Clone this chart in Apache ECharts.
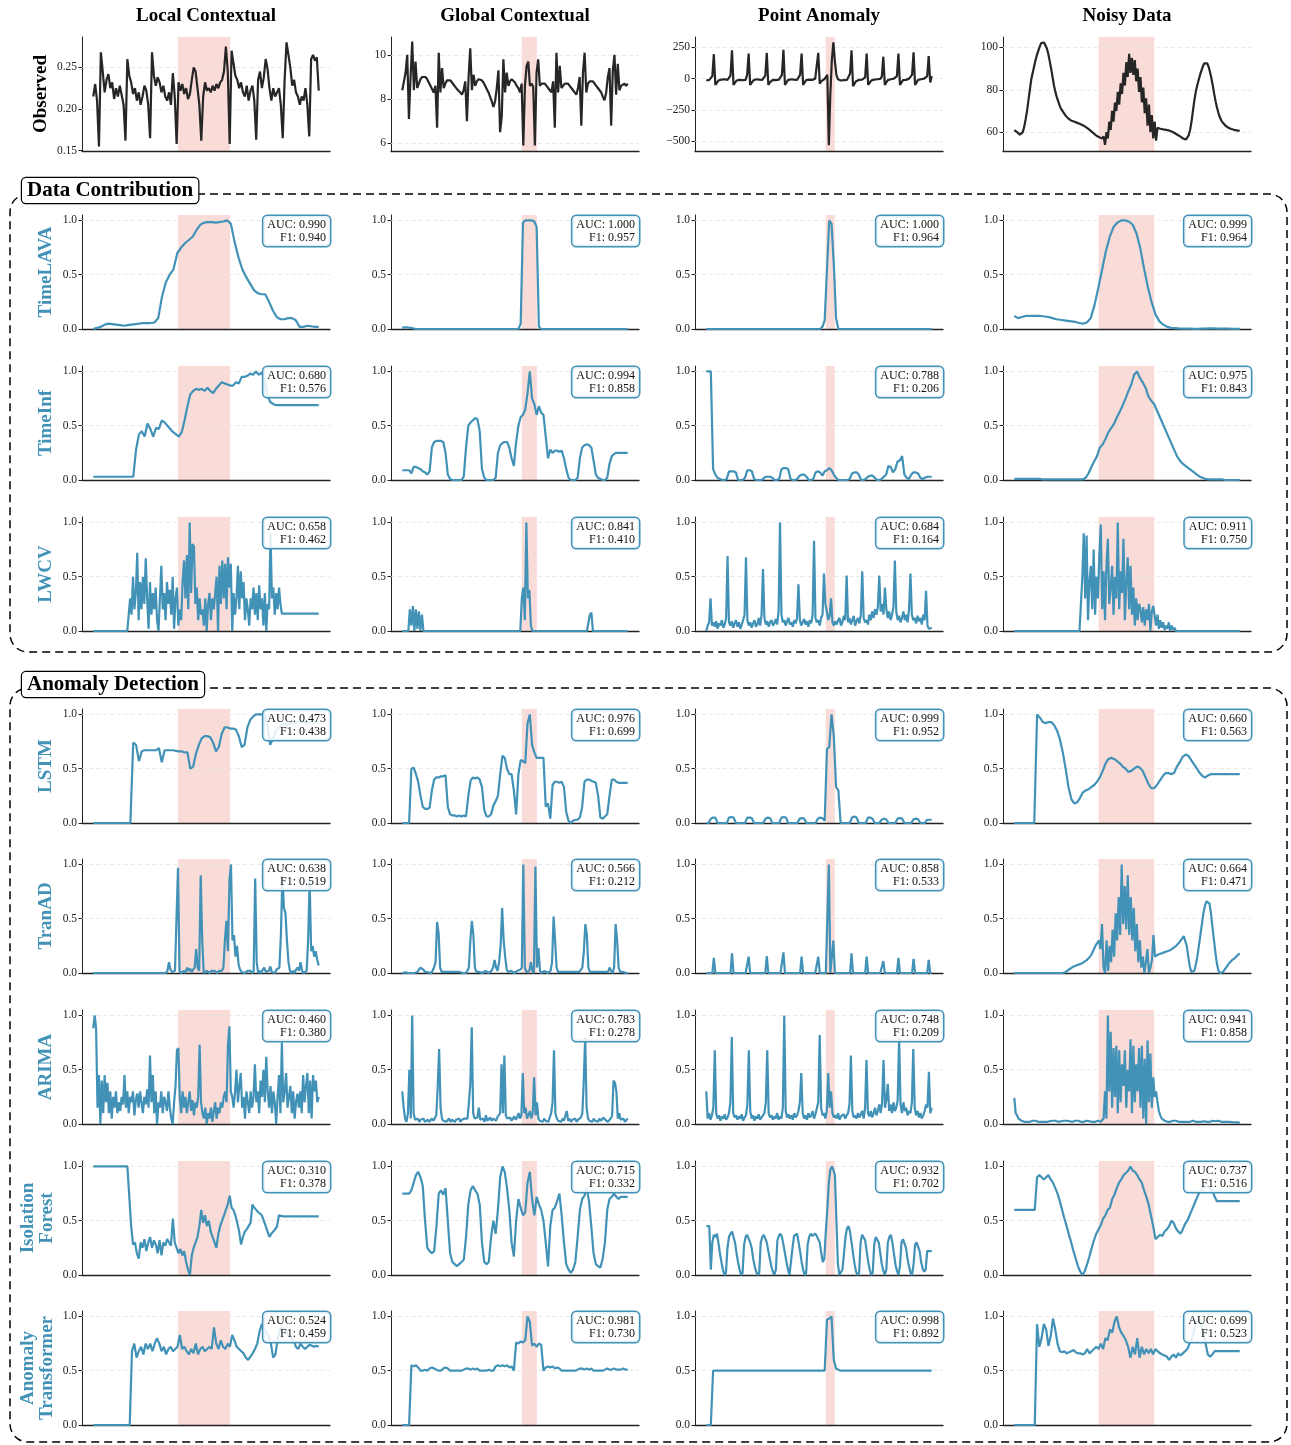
<!DOCTYPE html>
<html>
<head>
<meta charset="utf-8">
<script src="https://cdn.jsdelivr.net/npm/echarts@6.0.0/dist/echarts.min.js"></script>
<style>
  html, body { margin: 0; padding: 0; background: #fff; }
  #main { width: 1291px; height: 1445px; }
</style>
</head>
<body>
<div id="main"></div>
<script>
// column / row labels
var columnTitles = ['Local Contextual', 'Global Contextual', 'Point Anomaly', 'Noisy Data'];
var rowLabels = ['Observed', 'TimeLAVA', 'TimeInf', 'LWCV', 'LSTM', 'TranAD', 'ARIMA', 'Isolation\nForest', 'Anomaly\nTransformer'];

// anomaly window, in % of the series length
var anomalyStart = [37.6, 53.0, 53.0, 37.4];
var anomalyEnd = [60.7, 59.7, 57.0, 62.1];

// y ticks
var observedTicks = [[0.15, 0.20, 0.25], [6, 8, 10], [-500, -250, 0, 250], [60, 80, 100]];
var observedMin = [0.1495, 5.65, -577, 51.1];
var observedMax = [0.2865, 10.81, 332, 104.9];
var scoreTicks = [0, 0.5, 1.0];

// AUC / F1 per method row, per column
var aucScores = [
  [0.990, 1.000, 1.000, 0.999],
  [0.680, 0.994, 0.788, 0.975],
  [0.658, 0.841, 0.684, 0.911],
  [0.473, 0.976, 0.999, 0.660],
  [0.638, 0.566, 0.858, 0.664],
  [0.460, 0.783, 0.748, 0.941],
  [0.310, 0.715, 0.932, 0.737],
  [0.524, 0.981, 0.998, 0.699]
];
var f1Scores = [
  [0.940, 0.957, 0.964, 0.964],
  [0.576, 0.858, 0.206, 0.843],
  [0.462, 0.410, 0.164, 0.750],
  [0.438, 0.699, 0.952, 0.563],
  [0.519, 0.212, 0.533, 0.471],
  [0.380, 0.278, 0.209, 0.858],
  [0.378, 0.332, 0.702, 0.516],
  [0.459, 0.730, 0.892, 0.523]
];

// ---- observed series ----
var obsLocal = [0.215,0.23,0.21,0.155,0.268,0.245,0.22,0.235,0.242,0.225,
  0.232,0.212,0.225,0.215,0.228,0.23,0.205,0.162,0.26,0.24,
  0.232,0.218,0.225,0.21,0.22,0.205,0.215,0.228,0.222,0.205,
  0.165,0.268,0.24,0.228,0.238,0.232,0.22,0.228,0.215,0.21,
  0.22,0.205,0.243,0.215,0.158,0.232,0.222,0.23,0.218,0.225,
  0.212,0.218,0.235,0.25,0.245,0.225,0.205,0.162,0.215,0.232,
  0.222,0.225,0.22,0.228,0.222,0.23,0.225,0.232,0.235,0.245,
  0.275,0.245,0.158,0.27,0.255,0.24,0.235,0.225,0.232,0.22,
  0.215,0.228,0.21,0.222,0.228,0.21,0.163,0.235,0.245,0.225,
  0.238,0.26,0.248,0.225,0.21,0.225,0.215,0.22,0.225,0.205,
  0.165,0.235,0.28,0.265,0.25,0.228,0.235,0.22,0.215,0.205,
  0.215,0.21,0.225,0.205,0.167,0.26,0.265,0.258,0.262,0.222];
var obsGlobal = [8.4,8.8,9.2,10.0,7.1,9.0,10.6,8.4,9.7,8.5,
  8.7,8.9,9.0,9.05,9.0,8.9,8.75,8.6,8.45,8.3,
  8.6,6.7,10.1,8.3,9.4,8.5,8.7,8.85,8.9,8.85,
  8.75,8.65,8.55,8.45,8.4,8.3,8.2,8.4,8.8,7.0,
  9.0,10.3,8.4,9.1,8.6,8.8,8.9,8.9,8.85,8.75,
  8.6,8.45,8.3,8.1,7.9,7.65,7.9,8.5,9.3,6.5,
  7.2,9.8,8.3,9.2,8.6,8.8,8.9,8.85,8.75,8.6,
  8.5,8.3,8.7,5.9,8.6,9.5,9.7,8.6,8.7,8.55,
  5.9,9.2,9.8,8.6,8.7,8.65,8.7,8.6,8.5,8.4,
  8.3,8.8,6.7,10.1,8.3,9.5,8.5,8.6,8.7,8.75,
  8.7,8.6,8.5,8.4,8.3,8.2,8.5,9.0,6.8,9.2,
  10.1,8.3,8.7,8.8,8.85,8.8,8.7,8.6,8.5,8.4,
  8.3,8.1,7.95,8.3,9.0,9.4,6.8,9.3,10.0,8.2,
  9.6,8.4,8.6,8.65,8.7,8.6,8.7];
var obsPoint = [-15,-12,-10,-12,20,195,-50,-35,-15,-10,
  -8,-12,-5,-8,-10,-5,25,225,-50,-40,
  -15,-12,-10,-8,-12,-5,-10,30,200,-50,
  -35,-15,-10,-5,-10,-8,-5,-10,-2,25,
  205,-50,-30,-15,-10,-8,-12,-5,-8,0,
  30,230,-50,-35,-12,-10,-5,-10,-8,-5,
  -10,-5,30,200,-50,-40,-12,-10,-8,-5,
  -10,-5,0,10,205,-40,-20,-10,-5,10,
  30,-530,-120,150,290,140,30,-5,-10,-15,
  -10,-12,-8,-10,-5,40,225,-60,-40,-20,
  -15,-10,-12,-8,-10,10,200,-50,-35,-15,
  -10,-8,-12,-5,-10,-2,15,175,-50,-30,
  -12,-10,-5,-8,0,-5,20,200,-50,-40,
  -12,-8,-10,-5,0,5,30,210,-50,-35,
  -10,-8,-5,-10,0,5,20,180,-30,20];
var obsNoisy = [61,60.5,60,59.3,58.8,59,60,62.5,66,70,
  75,80,85,88,91,94,96.5,98.5,100.5,102,
  102.5,102.3,101.5,99.5,97,93.5,90,86,82,79,
  76.5,74.5,72.5,71,70,69,68,67.2,66.5,66,
  65.5,65.2,65,64.8,64.5,64.2,64,63.7,63.4,63,
  62.6,62.2,61.7,61.2,60.6,60,59.4,58.8,58.3,57.9,
  57.6,57.3,57,58,54,60,57,65,61,70,
  65,74,70,79,73,83,78,88,82,93,
  86,97,88,95,87,94,84,90,79,86,
  74,81,69,76,63,73,60,68,57,65,
  56,62,61.8,61.6,61.4,61.3,61.2,61.1,61,60.8,
  60.6,60.3,60,59.6,59.2,58.8,58.4,58,57.5,57,
  56.7,56.5,57,58.5,61,65,70,75,79,82,
  84.5,87,89,91,92.5,93,92.5,91,88.5,85.5,
  82,78,74.5,71.5,69,67,65.5,64.5,63.6,63,
  62.5,62.1,61.8,61.5,61.3,61.1,61,60.8,60.7,60.6];

// ---- TimeLAVA ----
var lavaLocal = [0,0.01,0.02,0.04,0.05,0.045,0.04,0.035,0.03,0.035,
  0.04,0.045,0.05,0.055,0.055,0.055,0.06,0.1,0.3,0.43,
  0.5,0.55,0.7,0.75,0.79,0.82,0.85,0.91,0.96,0.98,
  0.985,0.985,0.98,0.985,0.99,1.0,0.97,0.8,0.66,0.55,
  0.48,0.42,0.36,0.33,0.32,0.32,0.25,0.17,0.11,0.09,
  0.09,0.1,0.1,0.08,0.02,0.02,0.03,0.025,0.02,0.02];
var lavaGlobal = [0.01,0.015,0.015,0.012,0.01,0.005,0,0,0,0,
  0,0,0,0,0,0,0,0,0,0,
  0,0,0,0,0,0,0,0,0,0,
  0,0,0,0,0,0,0,0,0,0,
  0,0,0,0,0,0,0,0,0,0,
  0,0,0.05,0.98,1.0,1.0,1.0,1.0,0.99,0.94,
  0.02,0,0,0,0,0,0,0,0,0,
  0,0,0,0,0,0,0,0,0,0,
  0,0,0,0,0,0,0,0,0,0,
  0,0,0,0,0,0,0,0,0,0];
var lavaPoint = [0,0,0,0,0,0,0,0,0,0,
  0,0,0,0,0,0,0,0,0,0,
  0,0,0,0,0,0,0,0,0,0,
  0,0,0,0,0,0,0,0,0,0,
  0,0,0,0,0,0,0,0,0,0,
  0,0.02,0.08,0.55,1.0,0.97,0.6,0.1,0,0,
  0,0,0,0,0,0,0,0,0,0,
  0,0,0,0,0,0,0,0,0,0,
  0,0,0,0,0,0,0,0,0,0,
  0,0,0,0,0,0,0,0,0,0];
var lavaNoisy = [0.12,0.1,0.11,0.12,0.12,0.12,0.12,0.12,0.115,0.11,
  0.1,0.09,0.085,0.08,0.075,0.07,0.065,0.055,0.05,0.06,
  0.1,0.22,0.38,0.55,0.72,0.85,0.94,0.98,1.0,1.0,
  0.99,0.96,0.88,0.74,0.55,0.38,0.24,0.13,0.07,0.04,
  0.02,0.01,0.008,0.005,0.004,0.003,0.003,0.002,0.002,0.003,
  0.004,0.005,0.005,0.004,0.004,0.003,0.003,0.002,0.002,0.002];

// ---- TimeInf ----
var infLocal = [0.03,0.03,0.03,0.03,0.03,0.03,0.03,0.03,0.03,0.03,
  0.03,0.03,0.03,0.03,0.03,0.28,0.42,0.45,0.4,0.52,
  0.47,0.4,0.48,0.47,0.55,0.53,0.5,0.47,0.44,0.42,
  0.4,0.44,0.55,0.68,0.79,0.82,0.84,0.83,0.84,0.82,
  0.85,0.82,0.8,0.84,0.87,0.9,0.89,0.88,0.87,0.87,
  0.9,0.89,0.95,0.95,0.96,0.98,0.97,1.0,0.97,0.99,
  0.93,0.78,0.72,0.7,0.69,0.69,0.69,0.69,0.69,0.69,
  0.69,0.69,0.69,0.69,0.69,0.69,0.69,0.69,0.69,0.69];
var infGlobal = [0.09,0.09,0.09,0.09,0.06,0.12,0.12,0.11,0.1,0.08,
  0.07,0.05,0.08,0.3,0.35,0.36,0.36,0.36,0.35,0.25,
  0.05,0.01,0,0,0,0,0,0.03,0.3,0.5,
  0.53,0.55,0.57,0.56,0.45,0.1,0.02,0,0,0,
  0,0.02,0.25,0.32,0.34,0.35,0.35,0.3,0.2,0.13,
  0.35,0.5,0.58,0.6,0.65,0.8,1.0,0.75,0.7,0.6,
  0.68,0.62,0.6,0.4,0.2,0.28,0.25,0.27,0.27,0.26,
  0.27,0.2,0.1,0.02,0,0,0,0.02,0.2,0.3,
  0.32,0.33,0.32,0.3,0.18,0.05,0.02,0.01,0,0,
  0.02,0.15,0.22,0.24,0.25,0.25,0.25,0.25,0.25,0.25];
var infPoint = [1.0,1.0,1.0,0.1,0.05,0.02,0.01,0,0,0.01,
  0.08,0.08,0.08,0.07,0,0,0,0.02,0.09,0.09,
  0.08,0.01,0,0,0,0.01,0.03,0.03,0.03,0.02,
  0,0,0.01,0.1,0.11,0.11,0.1,0.01,0,0,
  0.01,0.04,0.05,0.05,0.03,0,0,0.01,0.07,0.08,
  0.07,0.04,0.08,0.09,0.11,0.09,0.05,0.02,0,0,
  0,0,0,0.01,0.06,0.07,0.07,0.05,0,0,
  0.01,0.03,0.04,0.04,0.02,0,0,0.01,0.03,0.05,
  0.13,0.12,0.07,0.1,0.17,0.18,0.22,0.05,0.02,0.01,
  0.05,0.07,0.07,0.06,0.02,0.01,0.02,0.03,0.03,0.03];
var infNoisy = [0.01,0.01,0.01,0.01,0.01,0.01,0.01,0.01,0.01,0.01,
  0.005,0.005,0.005,0.005,0.005,0.005,0.005,0.005,0.005,0.005,
  0.005,0.005,0.005,0.005,0.005,0.02,0.06,0.12,0.17,0.22,
  0.3,0.33,0.38,0.44,0.48,0.52,0.58,0.63,0.69,0.75,
  0.82,0.88,0.97,1.0,0.94,0.9,0.85,0.77,0.73,0.7,
  0.64,0.58,0.52,0.46,0.4,0.34,0.28,0.22,0.18,0.15,
  0.13,0.11,0.09,0.07,0.05,0.03,0.02,0.01,0.005,0.005,
  0.005,0.005,0.005,0.005,0,0,0,0,0,0];

// ---- LWCV ----
var lwcvLocal = [0,0,0,0,0,0,0,0,0,0,
  0,0,0,0,0,0,0,0,0,0,
  0,0,0,0,0,0,0.3,0.15,0.5,0.2,
  0.35,0.72,0.1,0.45,0.2,0.5,0.25,0.67,0.3,0.02,
  0.45,0.15,0.35,0.2,0.4,0.1,0,0.3,0.6,0.2,
  0.35,0.1,0.45,0.25,0.38,0.15,0.5,0.02,0.3,0.4,
  0.05,0.2,0.1,0.45,0.65,0.3,0.7,0.2,1.0,0.35,
  0.8,0.78,0.25,0.4,0.1,0.3,0.15,0.2,0.05,0.3,
  0,0.25,0.35,0.1,0.3,0.2,0.35,0.5,0,0.6,
  0.25,0.65,0.3,0.62,0.2,0.68,0.4,0.62,0,0.35,
  0.15,0.3,0.6,0.2,0.55,0.3,0.45,0.1,0.3,0.2,
  0.05,0.3,0.2,0.4,0.15,0.35,0.1,0.42,0.2,0.3,
  0.05,0.35,0,0.25,0.2,0.9,0.3,0.4,0.15,0.35,
  0.2,0.4,0.25,0.16,0.16,0.16,0.16,0.16,0.16,0.16,
  0.16,0.16,0.16,0.16,0.16,0.16,0.16,0.16,0.16,0.16,
  0.16,0.16,0.16,0.16,0.16,0.16,0.16,0.16,0.16,0.16];
var lwcvGlobal = [0,0,0,0,0,0.2,0.05,0.23,0,0.2,
  0.02,0.18,0,0.15,0,0,0,0,0,0,
  0,0,0,0,0,0,0,0,0,0,
  0,0,0,0,0,0,0,0,0,0,
  0,0,0,0,0,0,0,0,0,0,
  0,0,0,0,0,0,0,0,0,0,
  0,0,0,0,0,0,0,0,0,0,
  0,0,0,0,0,0,0,0,0,0.3,
  0.4,0.1,1.0,0.3,0.38,0.05,0,0,0,0,
  0,0,0,0,0,0,0,0,0,0,
  0,0,0,0,0,0,0,0,0,0,
  0,0,0,0,0,0,0,0,0,0,
  0,0,0,0,0.15,0.17,0,0,0,0,
  0,0,0,0,0,0,0,0,0,0,
  0,0,0,0,0,0,0,0,0,0];
var lwcvPoint = [0,0.05,0.08,0.3,0.05,0.08,0.04,0.09,0.02,0.07,
  0.05,0.1,0.03,0.06,0.12,0.69,0.08,0.05,0.09,0.03,
  0.07,0.1,0.04,0.08,0.02,0.06,0.1,0.15,0.68,0.1,
  0.05,0.08,0.03,0.07,0.1,0.04,0.06,0.12,0.05,0.15,
  0.57,0.12,0.06,0.09,0.04,0.08,0.1,0.05,0.07,0.11,
  0.06,0.18,1.0,0.15,0.08,0.1,0.05,0.09,0.12,0.06,
  0.08,0.04,0.1,0.07,0.12,0.43,0.1,0.05,0.08,0.11,
  0.06,0.09,0.04,0.1,0.07,0.15,0.83,0.12,0.08,0.1,
  0.05,0.12,0.15,0.53,0.25,0.18,0.1,0.14,0.3,0.08,
  0.05,0.09,0.06,0.1,0.12,0.05,0.08,0.14,0.1,0.51,
  0.08,0.12,0.06,0.1,0.14,0.05,0.09,0.12,0.07,0.15,
  0.55,0.12,0.08,0.1,0.06,0.15,0.1,0.18,0.12,0.2,
  0.15,0.22,0.51,0.18,0.25,0.15,0.4,0.2,0.12,0.18,
  0.1,0.15,0.22,0.65,0.18,0.1,0.14,0.08,0.12,0.18,
  0.1,0.15,0.08,0.2,0.53,0.15,0.1,0.12,0.07,0.14,
  0.09,0.12,0.06,0.15,0.1,0.37,0.05,0.02,0.03,0.03];
var lwcvNoisy = [0,0,0,0,0,0,0,0,0,0,
  0,0,0,0,0,0,0,0,0,0,
  0,0,0,0,0,0,0,0,0,0,
  0,0,0,0,0,0,0,0,0,0,
  0,0,0,0,0,0,0,0,0.5,0.9,
  0.3,0.88,0.1,0.45,0.6,0.2,0.75,0.15,0.5,0.3,
  0.7,0.98,0.2,0.55,0.1,0.6,0.85,0.25,0.4,0.6,
  0.15,0.5,0.3,1.0,0.2,0.55,0.35,0.85,0.1,0.45,
  0.68,0.2,0.6,0.15,0.4,0.05,0.3,0.1,0.25,0.2,
  0.08,0.22,0.05,0.2,0.1,0.25,0,0.18,0.23,0.22,
  0.05,0.15,0.02,0.1,0.03,0.08,0.01,0.05,0.02,0.08,
  0,0.05,0.01,0.03,0,0.01,0,0,0,0,
  0,0,0,0,0,0,0,0,0,0,
  0,0,0,0,0,0,0,0,0,0,
  0,0,0,0,0,0,0,0,0,0,
  0,0,0,0,0,0,0,0,0,0];

// ---- LSTM ----
var lstmLocal = [0,0,0,0,0,0,0,0,0,0,
  0,0,0,0,0.74,0.72,0.57,0.66,0.67,0.67,
  0.67,0.67,0.67,0.69,0.56,0.67,0.67,0.67,0.67,0.665,
  0.66,0.66,0.65,0.65,0.5,0.52,0.64,0.72,0.78,0.8,
  0.8,0.79,0.74,0.66,0.7,0.82,0.88,0.88,0.87,0.87,
  0.86,0.8,0.7,0.72,0.88,0.95,0.98,1.0,1.0,1.0,
  1.0,0.9,0.72,0.78,0.85,0.88,0.9,0.92,0.9,0.92,
  0.93,0.92,0.93,0.94,0.93,0.92,0.93,0.94,0.93,0.93];
var lstmGlobal = [0,0,0,0,0.5,0.51,0.45,0.38,0.25,0.15,
  0.13,0.13,0.14,0.3,0.4,0.42,0.42,0.43,0.43,0.44,
  0.15,0.08,0.07,0.07,0.06,0.07,0.06,0.07,0.06,0.25,
  0.39,0.42,0.41,0.42,0.4,0.33,0.12,0.06,0.06,0.08,
  0.16,0.2,0.25,0.45,0.62,0.6,0.5,0.45,0.45,0.3,
  0.08,0.45,0.58,0.57,0.55,0.92,1.0,0.72,0.65,0.6,
  0.6,0.6,0.6,0.15,0.18,0.04,0.35,0.38,0.38,0.37,
  0.38,0.33,0.1,0.02,0,0.02,0.03,0.03,0.05,0.15,
  0.38,0.4,0.4,0.39,0.38,0.37,0.25,0.05,0.04,0.06,
  0.08,0.25,0.4,0.4,0.38,0.37,0.37,0.37,0.37,0.37];
var lstmPoint = [0,0,0.04,0.05,0.05,0,0,0,0,0,
  0.05,0.055,0.05,0,0,0,0,0,0.05,0.05,
  0.045,0,0,0,0,0,0.04,0.05,0.045,0,
  0,0,0,0.05,0.055,0.05,0,0,0,0,
  0,0.04,0.045,0.04,0,0,0,0,0,0.04,
  0.05,0.045,0.02,0.68,0.7,1.0,0.8,0.33,0.3,0,
  0,0,0,0,0.05,0.06,0.05,0,0,0,
  0,0.05,0.05,0.04,0,0,0,0.03,0.04,0.035,
  0,0,0,0,0.04,0.045,0.04,0,0,0,
  0,0.035,0.04,0.035,0,0,0,0.03,0.03,0.03];
var lstmNoisy = [0,0,0,0,0,0,0,0,1.0,0.97,
  0.93,0.92,0.93,0.93,0.9,0.85,0.77,0.65,0.5,0.33,
  0.22,0.18,0.19,0.23,0.28,0.3,0.31,0.33,0.35,0.38,
  0.42,0.48,0.55,0.59,0.6,0.59,0.57,0.55,0.52,0.5,
  0.47,0.48,0.5,0.52,0.51,0.48,0.42,0.36,0.32,0.32,
  0.35,0.39,0.43,0.46,0.46,0.45,0.46,0.52,0.56,0.61,
  0.63,0.62,0.58,0.54,0.5,0.46,0.43,0.42,0.44,0.45,
  0.45,0.45,0.45,0.45,0.45,0.45,0.45,0.45,0.45,0.45];

// ---- TranAD ----
var tranLocal = [0,0,0,0,0,0,0,0,0,0,
  0,0,0,0,0,0,0,0,0,0,
  0,0,0,0,0,0,0,0,0,0,
  0,0,0,0,0,0,0,0,0,0,
  0,0,0,0,0,0,0,0,0,0.02,
  0.1,0.03,0.01,0,0.02,0.5,0.97,0.02,0,0.01,
  0.02,0,0.05,0.02,0.04,0.01,0.03,0.05,0.22,0.05,
  0.02,0.9,0.3,0,0.01,0.02,0.01,0,0.02,0.01,
  0.02,0.01,0,0.02,0.03,0.02,0.05,0.3,0.48,0.2,
  0.85,1.0,0.3,0.35,0.15,0.25,0.08,0.03,0.01,0.02,
  0,0.01,0.02,0.01,0.02,0,0.02,0.87,0.1,0,
  0.02,0,0.03,0.05,0.01,0,0.02,0.06,0.01,0.02,
  0,0.03,0.02,0.05,0.35,0.9,0.6,0.55,0.3,0.1,
  0.02,0,0.02,0,0.03,0.05,0.02,0.1,0.02,0,
  0.01,0.02,0.3,0.85,0.2,0.25,0.15,0.2,0.12,0.07];
var tranGlobal = [0,0,0.005,0.01,0,0.005,0,0.01,0,0.005,
  0.01,0.03,0.05,0.05,0.03,0.01,0,0.005,0.01,0,
  0.02,0.05,0.1,0.47,0.37,0.05,0.01,0,0.01,0.02,
  0.01,0,0.01,0.02,0.01,0,0.01,0,0.01,0.02,
  0,0.01,0,0.02,0.05,0.3,0.48,0.35,0.05,0.01,
  0,0.01,0.02,0,0.01,0.02,0.01,0,0.01,0.02,
  0.05,0.12,0.05,0.02,0.1,0.25,0.6,0.3,0.15,0.03,
  0.01,0,0.02,0.01,0,0.01,0.02,0.01,0.03,0.05,
  1.0,0.05,0.01,0,0.02,0.1,0.02,0,0.98,0.05,
  0.23,0.02,0,0.01,0.02,0.01,0,0.01,0.02,0.1,
  0.52,0.3,0.05,0.01,0,0.01,0.02,0.01,0,0.01,
  0.02,0.01,0,0.01,0.02,0.01,0,0.01,0.02,0.05,
  0.2,0.45,0.35,0.05,0.01,0,0.01,0.02,0.01,0,
  0.01,0.02,0.01,0,0.01,0.02,0.01,0.05,0.02,0,
  0.05,0.45,0.3,0.05,0.01,0,0.01,0.01,0,0];
var tranPoint = [0,0,0,0,0,0.14,0,0,0,0,
  0,0,0,0,0,0,0,0.18,0,0,
  0,0,0,0,0,0,0,0,0.15,0,
  0,0,0,0,0,0,0,0,0,0,
  0.155,0,0,0,0,0,0,0,0,0,
  0,0.19,0,0,0,0,0,0,0,0,
  0,0,0,0.15,0,0,0,0,0,0,
  0,0,0,0,0.15,0,0,0,0,0,
  0,1.0,0,0,0.3,0,0,0,0,0,
  0,0,0,0,0,0,0.18,0,0,0,
  0,0,0,0,0,0,0.15,0,0,0,
  0,0,0,0,0,0,0,0.11,0,0,
  0,0,0,0,0,0,0,0.14,0,0,
  0,0,0,0,0,0,0,0.13,0,0,
  0,0,0,0,0,0,0,0.12,0,0];
var tranNoisy = [0,0,0,0,0,0,0,0,0,0,
  0,0,0,0,0,0,0,0,0,0,
  0,0,0,0,0,0,0,0,0,0,
  0,0,0,0.005,0.01,0.02,0.03,0.04,0.05,0.06,
  0.065,0.07,0.075,0.08,0.085,0.09,0.1,0.11,0.12,0.13,
  0.15,0.17,0.2,0.23,0.26,0.28,0.3,0.22,0.45,0.05,
  0,0.3,0.02,0.25,0.1,0.4,0.15,0.55,0.3,0.7,
  0.35,1.0,0.45,0.8,0.4,0.9,0.35,0.7,0.3,0.6,
  0.2,0.45,0.1,0.3,0.05,0.15,0,0.1,0.22,0,
  0.05,0.12,0.35,0.15,0.16,0.17,0.17,0.18,0.18,0.19,
  0.19,0.2,0.2,0.21,0.22,0.23,0.24,0.25,0.26,0.28,
  0.3,0.32,0.34,0.33,0.25,0.15,0.06,0.01,0,0.02,
  0.08,0.15,0.25,0.35,0.45,0.55,0.62,0.66,0.67,0.64,
  0.55,0.42,0.3,0.18,0.08,0.02,0,0,0.01,0.03,
  0.05,0.07,0.09,0.1,0.12,0.13,0.14,0.15,0.17,0.18];

// ---- ARIMA ----
var arimaLocal = [0.88,1.0,0.88,0.15,0.45,0,0.4,0.1,0.45,0.2,
  0.38,0.1,0.3,0.05,0.25,0.15,0.3,0.1,0.2,0.12,
  0.25,0.18,0.45,0.15,0.3,0.1,0.25,0.2,0.3,0.08,
  0.22,0.28,0.15,0.3,0.2,0.1,0.25,0.18,0.32,0.15,
  0.63,0.2,0.45,0.1,0.3,0,0.2,0.15,0.3,0.1,
  0.25,0.2,0.12,0.3,0.15,0.05,0,0.2,0.35,0.68,
  0.7,0.25,0.1,0.3,0.15,0.25,0.1,0.2,0.3,0.12,
  0.22,0.08,0.2,0.15,0.25,0.73,0.2,0.1,0.05,0.15,
  0,0.1,0.05,0.15,0.02,0.12,0.2,0.05,0.15,0.1,
  0.2,0.15,0.25,0.3,0.2,0.73,0.9,0.3,0.25,0.15,
  0.3,0.5,0.2,0.35,0.47,0.15,0.25,0.05,0.3,0.2,
  0.1,0.3,0.15,0.25,0.55,0.2,0.3,0.1,0.4,0.25,
  0.5,0.2,0.62,0.3,0.15,0.35,0.1,0.3,0.2,0,
  0.25,0.45,0.1,0.75,0.2,0.3,0.47,0.15,0.25,0.35,
  0.1,0.3,0.05,0.2,0.28,0.15,0.3,0.1,0.45,0.2,
  0.35,0.47,0.1,0.4,0.05,0.45,0.3,0.4,0.2,0.25];
var arimaGlobal = [0.3,0.15,0.05,0.02,0.1,0.5,0.05,1.0,0.1,0.04,
  0.03,0.05,0.02,0.04,0.03,0.05,0.02,0.03,0.04,0.02,
  0.03,0.05,0.03,0.04,0.08,0.35,0.69,0.15,0.05,0.03,
  0.04,0.02,0.03,0.05,0.02,0.04,0.03,0.02,0.04,0.03,
  0.05,0.02,0.04,0.03,0.05,0.06,0.05,0.2,0.37,0.89,
  0.1,0.05,0.04,0.06,0.15,0.04,0.03,0.05,0.02,0.08,
  0.03,0.04,0.06,0.03,0.05,0.04,0.03,0.06,0.05,0.1,
  0.55,0.1,0.63,0.08,0.05,0.04,0.06,0.03,0.05,0.07,
  0.04,0.06,0.1,0.05,0.08,0.47,0.1,0.15,0.05,0.08,
  0.12,0.05,0.1,0.43,0.08,0.2,0.05,0.03,0.04,0.02,
  0.05,0.03,0.04,0.02,0.06,0.1,0.2,0.68,0.1,0.05,
  0.03,0.04,0.02,0.05,0.03,0.04,0.12,0.03,0.05,0.02,
  0.04,0.03,0.05,0.02,0.04,0.03,0.06,0.1,0.4,0.8,
  0.15,0.05,0.03,0.04,0.02,0.05,0.03,0.04,0.02,0.05,
  0.03,0.04,0.06,0.04,0.05,0.02,0.03,0.05,0.08,0.4,
  0.38,0.3,0.05,0.1,0.04,0.03,0.05,0.02,0.03,0.05];
var arimaPoint = [0.3,0.05,0.1,0.04,0.08,0.15,0.68,0.1,0.05,0.08,
  0.03,0.07,0.05,0.09,0.04,0.06,0.1,0.2,0.8,0.1,
  0.06,0.08,0.04,0.07,0.05,0.09,0.03,0.06,0.08,0.18,
  0.68,0.12,0.05,0.08,0.03,0.07,0.05,0.09,0.04,0.06,
  0.08,0.1,0.2,0.68,0.1,0.06,0.08,0.04,0.07,0.05,
  0.1,0.04,0.07,0.05,0.15,1.0,0.12,0.06,0.09,0.05,
  0.08,0.04,0.1,0.06,0.08,0.12,0.2,0.47,0.1,0.05,
  0.08,0.04,0.1,0.06,0.08,0.12,0.05,0.09,0.1,0.2,
  0.82,0.15,0.08,0.1,0.05,0.12,0.47,0.15,0.3,0.1,
  0.06,0.08,0.05,0.1,0.04,0.07,0.06,0.09,0.05,0.08,
  0.1,0.18,0.63,0.12,0.06,0.08,0.05,0.1,0.06,0.09,
  0.12,0.05,0.15,0.59,0.1,0.07,0.12,0.06,0.1,0.15,
  0.08,0.12,0.18,0.1,0.2,0.59,0.15,0.22,0.37,0.12,
  0.18,0.1,0.2,0.12,0.15,0.22,0.8,0.18,0.1,0.2,
  0.12,0.15,0.08,0.12,0.1,0.2,0.69,0.15,0.08,0.12,
  0.06,0.1,0.05,0.08,0.12,0.18,0.15,0.48,0.1,0.15];
var arimaNoisy = [0.24,0.1,0.08,0.05,0.04,0.03,0.04,0.02,0.03,0.02,
  0.03,0.02,0.025,0.03,0.02,0.03,0.02,0.02,0.03,0.02,
  0.025,0.02,0.03,0.02,0.03,0.025,0.02,0.03,0.02,0.03,
  0.02,0.02,0.03,0.025,0.02,0.03,0.02,0.03,0.02,0.025,
  0.03,0.02,0.02,0.03,0.02,0.03,0.025,0.02,0.03,0.02,
  0.02,0.03,0.02,0.025,0.03,0.02,0.03,0.02,0.02,0.03,
  0.025,0.02,0.03,0.05,0.3,0.05,1.0,0.3,0.85,0.15,
  0.7,0.25,0.72,0.1,0.68,0.2,0.55,0.35,0.68,0.15,
  0.5,0.3,0.78,0.1,0.72,0.2,0.55,0.3,0.7,0.15,
  0.72,0.05,0.6,0,0.77,0.2,0.65,0.15,0.43,0.25,
  0.3,0.2,0.12,0.08,0.05,0.04,0.03,0.03,0.02,0.03,
  0.02,0.025,0.03,0.02,0.03,0.02,0.02,0.03,0.02,0.025,
  0.02,0.03,0.02,0.03,0.02,0.02,0.03,0.025,0.02,0.03,
  0.02,0.03,0.02,0.02,0.025,0.03,0.02,0.03,0.02,0.02,
  0.03,0.02,0.025,0.02,0.03,0.02,0.02,0.03,0.02,0.025,
  0.02,0.03,0.02,0.02,0.015,0.02,0.015,0.02,0.015,0.01];

// ---- Isolation Forest ----
var iforLocal = [1,1,1,1,1,1,1,1,1,1,
  1,1,1,1,1,1,1,1,1,1,
  0.45,0.28,0.3,0.2,0.15,0.3,0.25,0.33,0.22,0.3,
  0.35,0.25,0.32,0.28,0.2,0.32,0.18,0.3,0.27,0.33,
  0.3,0.27,0.52,0.3,0.25,0.2,0.24,0.18,0.22,0.12,
  0.05,0,0.18,0.25,0.3,0.35,0.45,0.6,0.48,0.55,
  0.45,0.5,0.4,0.35,0.3,0.25,0.38,0.45,0.5,0.55,
  0.6,0.65,0.73,0.62,0.6,0.55,0.48,0.4,0.28,0.35,
  0.4,0.42,0.45,0.48,0.65,0.62,0.6,0.58,0.58,0.55,
  0.5,0.45,0.4,0.35,0.38,0.4,0.42,0.45,0.55,0.54,
  0.54,0.54,0.54,0.54,0.54,0.54,0.54,0.54,0.54,0.54,
  0.54,0.54,0.54,0.54,0.54,0.54,0.54,0.54,0.54,0.54];
var iforGlobal = [0.75,0.75,0.75,0.75,0.78,0.85,0.92,0.95,0.9,0.82,
  0.5,0.25,0.22,0.2,0.22,0.45,0.75,0.78,0.74,0.8,
  0.5,0.2,0.12,0.1,0.08,0.1,0.12,0.14,0.35,0.65,
  0.78,0.82,0.78,0.75,0.65,0.3,0.12,0.1,0.12,0.35,
  0.5,0.38,0.6,0.9,1.0,0.95,0.8,0.6,0.3,0.17,
  0.5,0.7,0.62,0.55,0.58,0.85,0.95,0.7,0.55,0.72,
  0.65,0.6,0.5,0.3,0.08,0.45,0.6,0.62,0.68,0.75,
  0.55,0.3,0.1,0.05,0.02,0.05,0.12,0.35,0.6,0.7,
  0.73,0.8,0.68,0.45,0.2,0.1,0.08,0.07,0.15,0.3,
  0.6,0.7,0.72,0.75,0.72,0.7,0.72,0.72,0.72,0.72];
var iforPoint = [0.45,0.45,0.45,0.05,0.3,0.37,0.35,0.38,0.3,0.2,
  0.12,0.05,0,0.02,0.25,0.35,0.38,0.4,0.35,0.3,
  0.2,0.12,0.05,0,0.02,0.28,0.35,0.37,0.38,0.3,
  0.25,0.15,0.08,0.03,0,0.02,0.3,0.35,0.37,0.38,
  0.3,0.22,0.15,0.08,0.03,0,0.05,0.32,0.36,0.38,
  0.35,0.28,0.2,0.12,0.05,0,0,0.25,0.36,0.37,
  0.38,0.3,0.22,0.12,0.05,0,0.02,0.28,0.35,0.38,
  0.36,0.37,0.38,0.36,0.35,0.3,0.2,0.12,0.15,0.4,
  0.6,0.85,0.97,1.0,0.97,0.92,0.5,0.1,0,0,
  0.05,0.2,0.35,0.43,0.45,0.4,0.3,0.2,0.1,0.03,
  0,0.02,0.3,0.37,0.38,0.32,0.22,0.12,0.05,0,
  0.02,0.28,0.35,0.36,0.3,0.2,0.1,0.04,0,0.05,
  0.3,0.35,0.37,0.3,0.2,0.1,0.04,0,0.08,0.3,
  0.33,0.32,0.25,0.15,0.08,0.02,0,0.1,0.28,0.3,
  0.3,0.22,0.12,0.06,0.03,0.05,0.22,0.22,0.22,0.22];
var iforNoisy = [0.6,0.6,0.6,0.6,0.6,0.6,0.6,0.6,0.6,0.6,
  0.9,0.92,0.9,0.88,0.9,0.92,0.88,0.85,0.8,0.75,
  0.68,0.6,0.52,0.45,0.37,0.3,0.22,0.15,0.08,0.03,
  0,0.04,0.1,0.17,0.25,0.32,0.38,0.42,0.46,0.52,
  0.55,0.6,0.62,0.7,0.74,0.8,0.85,0.88,0.92,0.94,
  0.96,1.0,0.96,0.95,0.92,0.88,0.85,0.78,0.72,0.65,
  0.55,0.45,0.33,0.35,0.37,0.36,0.4,0.42,0.45,0.5,
  0.48,0.43,0.4,0.38,0.42,0.47,0.5,0.55,0.6,0.65,
  0.7,0.75,0.78,0.8,0.82,0.82,0.8,0.78,0.72,0.68,
  0.68,0.68,0.68,0.68,0.68,0.68,0.68,0.68,0.68,0.68];

// ---- Anomaly Transformer ----
var atLocal = [0,0,0,0,0,0,0,0,0,0,
  0,0,0,0,0,0,0,0.68,0.75,0.62,
  0.68,0.72,0.65,0.75,0.7,0.75,0.68,0.75,0.8,0.75,
  0.68,0.72,0.65,0.7,0.72,0.68,0.7,0.72,0.83,0.7,
  0.72,0.68,0.65,0.7,0.66,0.75,0.65,0.7,0.72,0.68,
  0.7,0.72,0.7,0.9,0.75,0.7,0.78,0.72,0.7,0.75,
  0.72,0.83,0.78,0.72,0.7,0.68,0.66,0.62,0.6,0.63,
  0.66,0.7,0.75,0.86,0.93,0.88,0.85,0.82,0.75,0.62,
  0.65,0.8,0.88,0.9,0.88,0.85,0.82,0.8,0.78,0.72,
  0.7,0.75,0.72,0.7,0.72,0.74,0.73,0.72,0.73,0.72];
var atGlobal = [0,0,0,0,0.55,0.54,0.55,0.53,0.5,0.5,
  0.51,0.5,0.52,0.53,0.52,0.51,0.5,0.5,0.52,0.53,
  0.52,0.5,0.5,0.5,0.5,0.5,0.5,0.51,0.52,0.52,
  0.51,0.52,0.51,0.52,0.5,0.5,0.5,0.5,0.51,0.5,
  0.5,0.54,0.55,0.54,0.55,0.54,0.55,0.53,0.54,0.5,
  0.76,0.75,0.77,0.76,0.78,1.0,0.95,0.73,0.75,0.72,
  0.75,0.74,0.5,0.53,0.54,0.53,0.54,0.52,0.53,0.52,
  0.5,0.5,0.5,0.5,0.5,0.5,0.5,0.51,0.52,0.52,
  0.51,0.52,0.51,0.52,0.5,0.5,0.5,0.5,0.5,0.51,
  0.52,0.51,0.51,0.52,0.51,0.51,0.51,0.52,0.51,0.51];
var atPoint = [0,0,0,0.5,0.5,0.5,0.5,0.5,0.5,0.5,
  0.5,0.5,0.5,0.5,0.5,0.5,0.5,0.5,0.5,0.5,
  0.5,0.5,0.5,0.5,0.5,0.5,0.5,0.5,0.5,0.5,
  0.5,0.5,0.5,0.5,0.5,0.5,0.5,0.5,0.5,0.5,
  0.5,0.5,0.5,0.5,0.5,0.5,0.5,0.5,0.5,0.5,
  0.5,0.5,0.5,0.97,0.98,1.0,0.6,0.52,0.51,0.5,
  0.5,0.5,0.5,0.5,0.5,0.5,0.5,0.5,0.5,0.5,
  0.5,0.5,0.5,0.5,0.5,0.5,0.5,0.5,0.5,0.5,
  0.5,0.5,0.5,0.5,0.5,0.5,0.5,0.5,0.5,0.5,
  0.5,0.5,0.5,0.5,0.5,0.5,0.5,0.5,0.5,0.5];
var atNoisy = [0,0,0,0,0,0,0,0,0,0,
  0.93,0.72,0.8,0.93,0.88,0.73,0.82,0.98,0.88,0.75,
  0.68,0.67,0.68,0.66,0.67,0.68,0.69,0.67,0.66,0.66,
  0.65,0.66,0.7,0.66,0.68,0.7,0.72,0.7,0.75,0.7,
  0.8,0.78,0.88,0.85,0.95,1.0,0.9,0.85,0.82,0.78,
  0.72,0.62,0.72,0.65,0.8,0.62,0.72,0.65,0.7,0.66,
  0.7,0.65,0.7,0.68,0.66,0.65,0.64,0.63,0.6,0.63,
  0.65,0.62,0.66,0.64,0.66,0.68,0.7,0.75,0.8,0.88,
  0.95,0.97,0.93,0.85,0.75,0.65,0.63,0.65,0.68,0.68,
  0.68,0.68,0.68,0.68,0.68,0.68,0.68,0.68,0.68,0.68];

var rows = [
  [obsLocal, obsGlobal, obsPoint, obsNoisy],
  [lavaLocal, lavaGlobal, lavaPoint, lavaNoisy],
  [infLocal, infGlobal, infPoint, infNoisy],
  [lwcvLocal, lwcvGlobal, lwcvPoint, lwcvNoisy],
  [lstmLocal, lstmGlobal, lstmPoint, lstmNoisy],
  [tranLocal, tranGlobal, tranPoint, tranNoisy],
  [arimaLocal, arimaGlobal, arimaPoint, arimaNoisy],
  [iforLocal, iforGlobal, iforPoint, iforNoisy],
  [atLocal, atGlobal, atPoint, atNoisy]
];

// layout
var gridLefts = [82, 391, 695, 1003];
var gridTops = [37, 215, 366, 517, 709, 859, 1010, 1161, 1311];
var GW = 248, GH = 114;
var blue = '#4292b8';
var serif = '"Liberation Serif", "DejaVu Serif", serif';

function tickText(r, c, v) {
  if (r > 0) return v.toFixed(1);
  if (c === 0) return v.toFixed(2);
  if (v < 0) return '\u2212' + Math.abs(v);
  return String(v);
}

var grids = [], xAxes = [], yAxes = [], series = [], graphics = [];

rows.forEach(function (rowData, r) {
  rowData.forEach(function (values, c) {
    var k = grids.length;
    var ticks = r === 0 ? observedTicks[c] : scoreTicks;
    var yMin = r === 0 ? observedMin[c] : 0;
    var yMax = r === 0 ? observedMax[c] : 1.05;
    grids.push({ left: gridLefts[c], top: gridTops[r], width: GW, height: GH });
    xAxes.push({
      type: 'value', gridIndex: k, min: -5, max: 105,
      axisLine: { show: true, onZero: false, lineStyle: { color: '#222', width: 1.3 } },
      axisTick: { show: false }, axisLabel: { show: false }, splitLine: { show: false }
    });
    yAxes.push({
      type: 'value', gridIndex: k, min: yMin, max: yMax,
      axisLine: { show: true, onZero: false, lineStyle: { color: '#222', width: 1 } },
      axisTick: { show: true, length: 3.5, customValues: ticks, lineStyle: { color: '#222' } },
      axisLabel: {
        customValues: ticks, margin: 5, fontFamily: serif, fontSize: 11.5, color: '#222',
        formatter: (function (rr, cc) { return function (v) { return tickText(rr, cc, v); }; })(r, c)
      },
      splitLine: { show: false }
    });
    // grid lines only where they do not sit on the bottom spine
    var gridTicks = ticks.filter(function (t) { return (t - yMin) > 0.03 * (yMax - yMin); });
    var n = values.length;
    var pts = values.map(function (v, i) { return [i * 100 / (n - 1), v]; });
    var col = r === 0 ? '#262626' : blue;
    // background layer: anomaly window + dashed grid lines (line itself invisible)
    series.push({
      type: 'line', xAxisIndex: k, yAxisIndex: k, z: 1, silent: true,
      data: pts, symbol: 'none',
      lineStyle: { opacity: 0 },
      markArea: {
        z: 0, silent: true, itemStyle: { color: '#f9dcd8' },
        data: [[{ xAxis: anomalyStart[c] }, { xAxis: anomalyEnd[c] }]]
      },
      markLine: {
        z: 1, silent: true, symbol: 'none', label: { show: false }, animation: false,
        lineStyle: { type: [4, 3], color: '#e4e4e4', width: 0.8 },
        data: gridTicks.map(function (t) { return { yAxis: t }; })
      }
    });
    series.push({
      type: 'line', xAxisIndex: k, yAxisIndex: k, z: 3,
      data: pts, symbol: 'none',
      lineStyle: { width: 2.2, color: col },
      itemStyle: { color: col }
    });
    if (r > 0) {
      graphics.push({
        type: 'text', z: 100,
        x: gridLefts[c] + GW, y: gridTops[r] + 1,
        style: {
          text: 'AUC: ' + aucScores[r - 1][c].toFixed(3) + '\nF1: ' + f1Scores[r - 1][c].toFixed(3),
          align: 'right', verticalAlign: 'top',
          fontFamily: serif, fontSize: 12, lineHeight: 13, fill: '#111',
          backgroundColor: 'rgba(255,255,255,0.85)',
          borderColor: blue, borderWidth: 1.5, borderRadius: 4, padding: [2, 4, 2, 4]
        }
      });
    }
  });
});

// column titles
columnTitles.forEach(function (t, c) {
  graphics.push({
    type: 'text', x: gridLefts[c] + GW / 2, y: 16,
    style: { text: t, align: 'center', verticalAlign: 'middle', fontFamily: serif, fontSize: 19, fontWeight: 'bold', fill: '#000' }
  });
});

// row labels
rowLabels.forEach(function (t, r) {
  var twoLine = t.indexOf('\n') >= 0;
  graphics.push({
    type: 'text', x: r === 0 ? 41 : (twoLine ? 38 : 46), y: gridTops[r] + GH / 2,
    rotation: Math.PI / 2,
    style: {
      text: t, align: 'center', verticalAlign: 'middle', lineHeight: 19,
      fontFamily: serif, fontSize: 19, fontWeight: 'bold', fill: r === 0 ? '#000' : blue
    }
  });
});

// dashed section frames + their labels
var sections = [
  { name: 'Data Contribution', top: 194, bottom: 652, labelTop: 178 },
  { name: 'Anomaly Detection', top: 688, bottom: 1442, labelTop: 672 }
];
sections.forEach(function (s) {
  graphics.push({
    type: 'rect', z: 1, silent: true,
    shape: { x: 10, y: s.top, width: 1277, height: s.bottom - s.top, r: 18 },
    style: { fill: 'none', stroke: '#000', lineWidth: 1.5, lineDash: [8, 5] }
  });
  graphics.push({
    type: 'text', z: 50, x: 22, y: s.labelTop,
    style: {
      text: s.name, align: 'left', verticalAlign: 'top',
      fontFamily: serif, fontSize: 21, fontWeight: 'bold', fill: '#000',
      backgroundColor: '#fff', borderColor: '#000', borderWidth: 1.2, borderRadius: 4,
      padding: [2, 5, 2, 5]
    }
  });
});

var chart = echarts.init(document.getElementById('main'));
chart.setOption({
  animation: false,
  backgroundColor: '#fff',
  textStyle: { fontFamily: serif },
  grid: grids,
  xAxis: xAxes,
  yAxis: yAxes,
  series: series,
  graphic: graphics
});
</script>
</body>
</html>
